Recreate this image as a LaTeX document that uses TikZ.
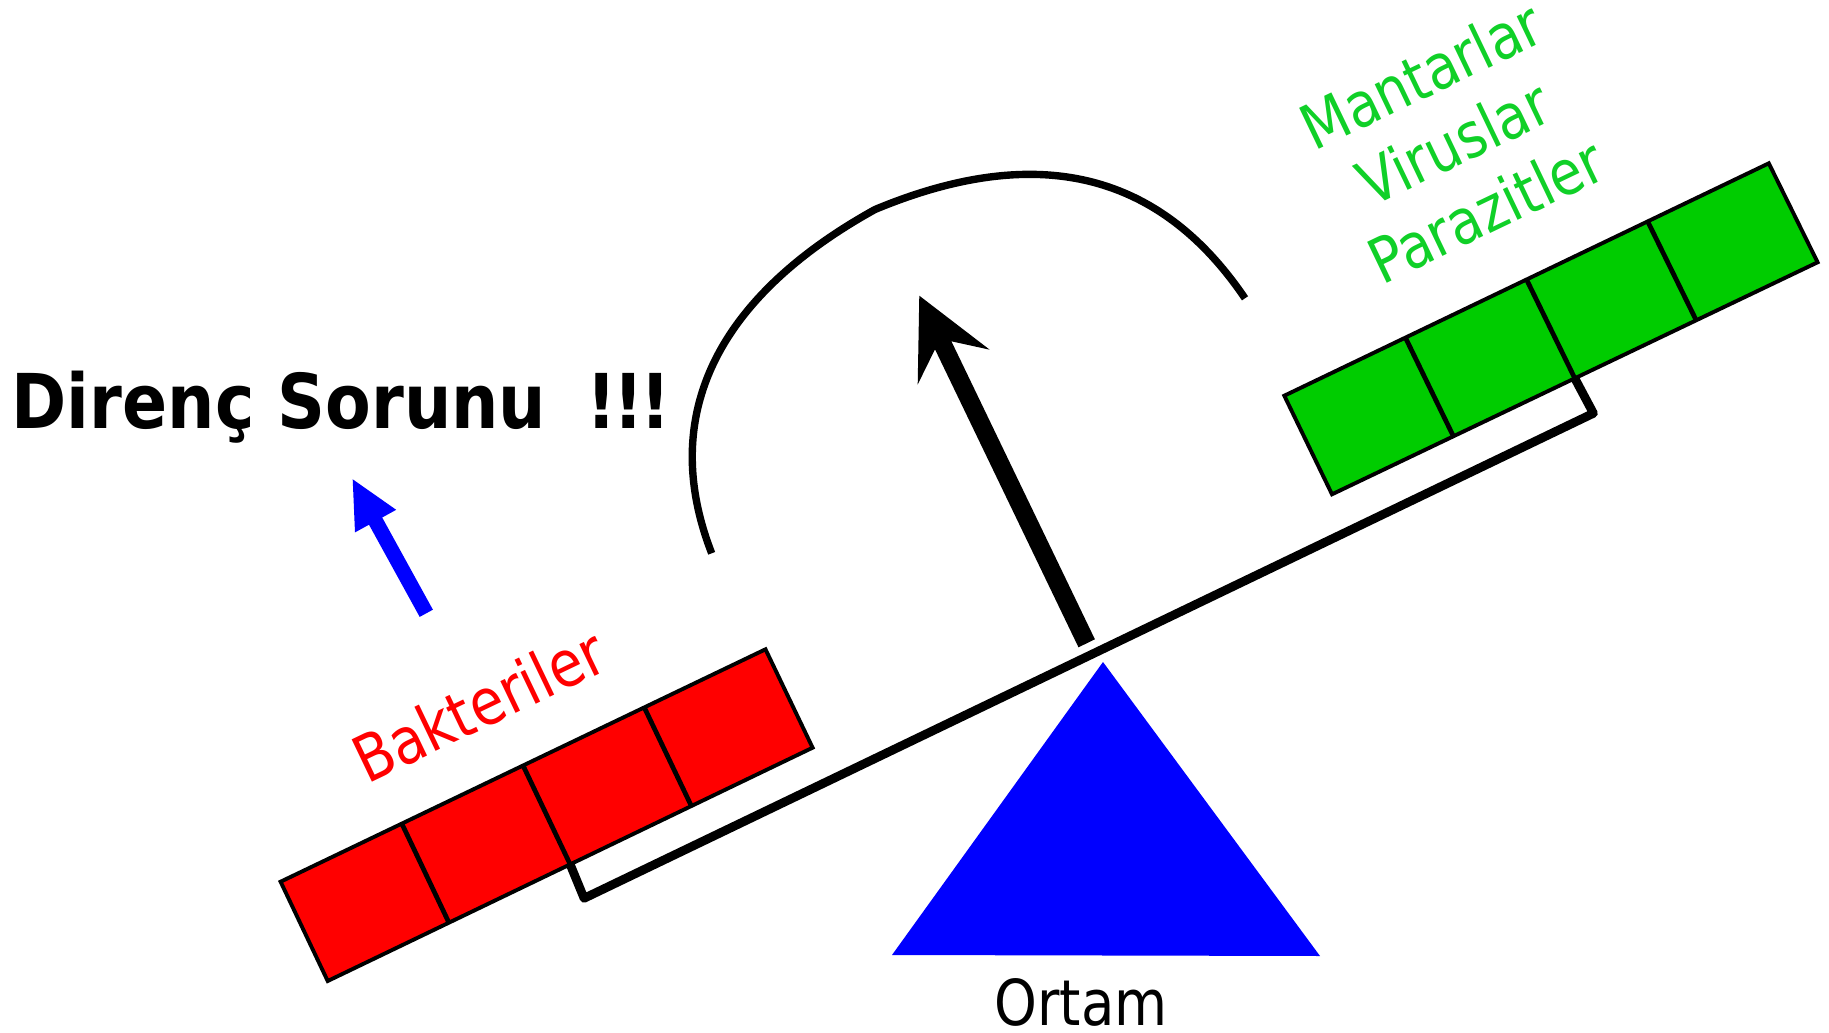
\documentclass[tikz,border=0pt]{standalone}
\usepackage{fontspec}
\setmainfont{DejaVu Sans}[FakeStretch=0.86]
\newfontfamily\ttlfont{DejaVu Sans}[FakeStretch=0.88]
\usetikzlibrary{calc}
\definecolor{cred}{RGB}{255,0,0}
\definecolor{cgreen}{RGB}{0,204,0}
\definecolor{tgreen}{RGB}{16,208,40}
\definecolor{cblue}{RGB}{0,0,255}
\begin{document}
\begin{tikzpicture}[x=0.01cm,y=-0.01cm]
\tikzset{
  boxline/.style={draw=black,line width=1.1pt,line join=miter},
  divline/.style={draw=black,line width=1.35pt},
  beamline/.style={draw=black,line width=2.5pt,line join=round},
  arcline/.style={draw=black,line width=2.1pt},
  lbltext/.style={inner sep=0pt,font=\fontsize{18}{21.3}\selectfont}
}
\useasboundingbox (0,0) rectangle (1829,1033);
% red strip corners
\coordinate (RTL) at (280.6,881.7);
\coordinate (RTR) at (765.5,649.3);
\coordinate (RBR) at (812.6,747.7);
\coordinate (RBL) at (327.7,981);
% green strip corners
\coordinate (GTL) at (1284.3,395.7);
\coordinate (GTR) at (1768.8,163.3);
\coordinate (GBR) at (1817.6,262.3);
\coordinate (GBL) at (1332,494.3);
% red boxes
\fill[cred] (RTL) -- (RTR) -- (RBR) -- (RBL) -- cycle;
\draw[boxline] (RTL) -- (RTR) -- (RBR) -- (RBL) -- cycle;
\foreach \f in {0.25,0.5,0.75}{
  \draw[divline] ($(RTL)!\f!(RTR)$) -- ($(RBL)!\f!(RBR)$);
}
% green boxes
\fill[cgreen] (GTL) -- (GTR) -- (GBR) -- (GBL) -- cycle;
\draw[boxline] (GTL) -- (GTR) -- (GBR) -- (GBL) -- cycle;
\foreach \f in {0.25,0.5,0.75}{
  \draw[divline] ($(GTL)!\f!(GTR)$) -- ($(GBL)!\f!(GBR)$);
}
% beam
\coordinate (BL) at (584.1,898.3);
\coordinate (BR) at (1593.4,413.3);
\draw[beamline] ($(RBL)!0.5!(RBR)$) -- (BL) -- (BR) -- ($(GBL)!0.5!(GBR)$);
% fulcrum
\fill[cblue] (1103,662) -- (1320,956) -- (892,955) -- cycle;
% big black arrow
\fill[black] (919.3,295.7) -- (989.7,349.7) -- (951.4,341.3) -- (1094.9,639.3)
  -- (1078.5,647.3) -- (935.0,349.3) -- (917.7,384.5) -- cycle;
% blue arrow
\fill[cblue] (352.7,479.3) -- (396.2,509.8) -- (382.2,517.5) -- (432.9,609.7)
  -- (419.7,616.9) -- (369.0,524.7) -- (355.0,532.4) -- cycle;
% arc
\coordinate (A0) at (711.7,553.3);
\coordinate (A1) at (875,209.5);
\coordinate (A2) at (1245,298.3);
\draw[arcline] (A0) .. controls (653.6,404.2) and (730.8,289.3) .. (A1)
  .. controls (1059.4,132.6) and (1172.1,190.7) .. (A2);
% texts
\node[inner sep=0pt,anchor=base west,font=\ttlfont\bfseries\fontsize{21.5}{25}\selectfont] (title) at (11,428.3) {Direnç Sorunu\hspace{11.5pt}!\kern-1pt!\kern-1pt!};
\node[lbltext,anchor=base] (ortam) at (1081,1025) {Ortam};
\node[lbltext,text=cred,rotate=25.6,font=\fontsize{18.3}{22}\selectfont] (bakt) at (478.5,705) {Bakteriler};
\node[lbltext,text=tgreen,rotate=25.6,align=center,font=\fontsize{17.7}{21.3}\selectfont] (others) at (1453.3,142.6) {Mantarlar\\Viruslar\\Parazitler};
\end{tikzpicture}
\end{document}
